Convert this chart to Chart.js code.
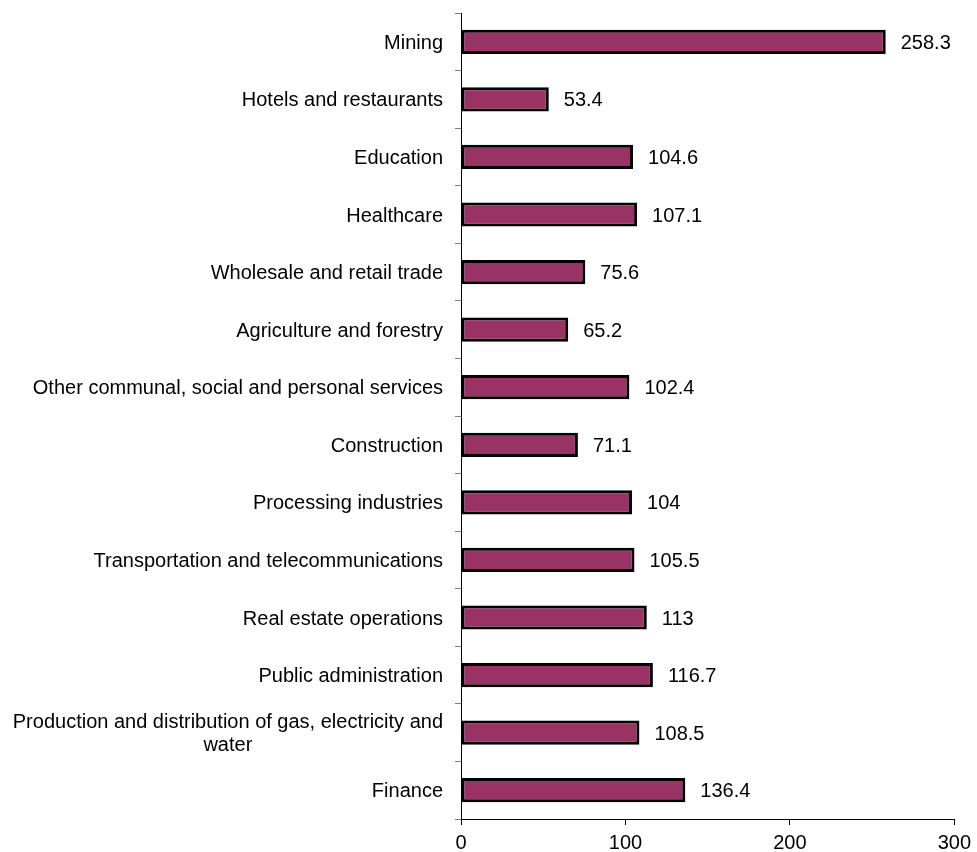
<!DOCTYPE html>
<html>
<head>
<meta charset="utf-8">
<script src="https://cdn.jsdelivr.net/npm/chart.js@4.4.1/dist/chart.umd.min.js"></script>
<style>
  html, body { margin: 0; padding: 0; background: #fff; }
  #wrap { width: 977px; height: 852px; }
</style>
</head>
<body>
<div id="wrap"><canvas id="chart" width="977" height="852"></canvas></div>
<script>
// categories, top to bottom
const categories = [
    'Mining',
    'Hotels and restaurants',
    'Education',
    'Healthcare',
    'Wholesale and retail trade',
    'Agriculture and forestry',
    'Other communal, social and personal services',
    'Construction',
    'Processing industries',
    'Transportation and telecommunications',
    'Real estate operations',
    'Public administration',
    ['Production and distribution of gas, electricity and', 'water'],
    'Finance'
];
const values = [258.3, 53.4, 104.6, 107.1, 75.6, 65.2, 102.4, 71.1, 104, 105.5, 113, 116.7, 108.5, 136.4];
const xTicks = [0, 100, 200, 300];

const FAMILY = '"Liberation Sans", Arial, sans-serif';
const FONT = '20px ' + FAMILY;

/* ---- category labels (multi-line centred, like the original) ---- */
const catLabels = {
    id: 'catLabels',
    afterDraw(chart) {
        const ctx = chart.ctx;
        const y = chart.scales.y;
        const right = chart.chartArea.left - 18;
        ctx.save();
        ctx.font = FONT;
        ctx.fillStyle = '#000';
        ctx.textBaseline = 'middle';
        ctx.textAlign = 'center';
        categories.forEach((lab, i) => {
            const lines = Array.isArray(lab) ? lab : [lab];
            const cy = y.getPixelForValue(i) + 1.5;
            const lh = 23;
            const w = Math.max(...lines.map(l => ctx.measureText(l).width));
            const cx = right - w / 2;
            lines.forEach((l, k) => {
                ctx.fillText(l, cx, cy + (k - (lines.length - 1) / 2) * lh);
            });
        });
        ctx.restore();
    }
};

/* ---- value labels at bar ends ---- */
const valueLabels = {
    id: 'valueLabels',
    afterDatasetsDraw(chart) {
        const ctx = chart.ctx;
        const meta = chart.getDatasetMeta(0);
        ctx.save();
        ctx.font = FONT;
        ctx.fillStyle = '#000';
        ctx.textAlign = 'left';
        ctx.textBaseline = 'middle';
        meta.data.forEach((bar, i) => {
            ctx.fillText(String(values[i]), bar.x + 15, bar.y + 1.5);
        });
        ctx.restore();
    }
};

new Chart(document.getElementById('chart'), {
    type: 'bar',
    data: {
        labels: categories,
        datasets: [{
            data: values,
            backgroundColor: '#993366',
            borderColor: '#000',
            borderWidth: 3,
            borderSkipped: false,
            categoryPercentage: 1,
            barPercentage: 0.42
        }]
    },
    options: {
        indexAxis: 'y',
        responsive: false,
        animation: false,
        layout: { padding: { top: 13, right: 17, bottom: 0, left: 0 } },
        plugins: {
            legend: { display: false },
            tooltip: { enabled: false }
        },
        scales: {
            x: {
                min: 0,
                max: 300,
                afterBuildTicks: (s) => { s.ticks = xTicks.map(v => ({ value: v })); },
                afterFit: (s) => { s.height = 33; },
                ticks: {
                    color: '#000',
                    font: { family: FAMILY, size: 20 },
                    padding: 6
                },
                grid: { drawOnChartArea: false, drawTicks: true, tickLength: 6, color: '#000' },
                border: { display: true, color: '#000', width: 1 }
            },
            y: {
                afterFit: (s) => { s.width = 461; },
                ticks: { display: false },
                grid: { drawOnChartArea: false, drawTicks: true, tickLength: 6, color: '#808080', offset: true },
                border: { display: true, color: '#000', width: 1 }
            }
        }
    },
    plugins: [catLabels, valueLabels]
});
</script>
</body>
</html>
